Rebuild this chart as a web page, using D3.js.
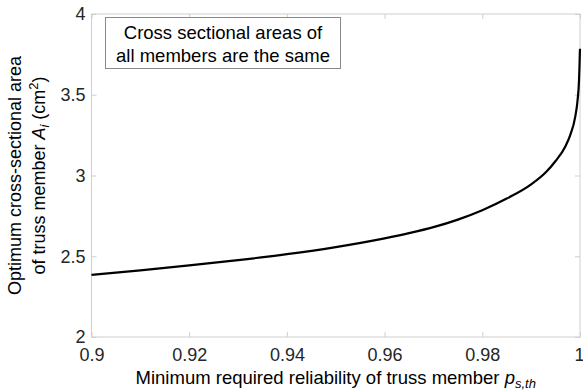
<!DOCTYPE html>
<html><head><meta charset="utf-8">
<script src="https://cdn.jsdelivr.net/npm/d3@7"></script>
<style>body{margin:0;background:#fff}svg{display:block}text{font-family:"Liberation Sans",Arial,sans-serif}</style>
</head><body>
<script>
const reliability = [0.90,0.91,0.92,0.93,0.94,0.95,0.96,0.965,0.97,0.975,0.98,0.985,0.99,0.993,0.995,0.997,0.998,0.999,0.9995,0.9998,0.9999,0.99997,1.0];
const area =        [2.385,2.413,2.443,2.476,2.513,2.557,2.611,2.643,2.680,2.727,2.785,2.857,2.945,3.020,3.090,3.180,3.250,3.360,3.465,3.590,3.680,3.760,3.785];
const xTicks = [0.9,0.92,0.94,0.96,0.98,1];
const xTickLabels = ["0.9","0.92","0.94","0.96","0.98","1"];
const yTicks = [2,2.5,3,3.5,4];
const yTickLabels = ["2","2.5","3","3.5","4"];

const W=583,H=391;
const m={l:91.5,r:3,t:14,b:54};
const svg=d3.select("body").append("svg").attr("width",W).attr("height",H);
const x=d3.scaleLinear().domain([0.9,1]).range([m.l,W-m.r]);
const y=d3.scaleLinear().domain([2,4]).range([H-m.b,m.t]);
const axCol="#cfcfcf", txtCol="#262626";

// box
svg.append("rect").attr("x",x(0.9)).attr("y",y(4)).attr("width",x(1)-x(0.9)).attr("height",y(2)-y(4))
  .attr("fill","none").attr("stroke",axCol).attr("stroke-width",1);

function styleAxis(g){g.select(".domain").remove();g.selectAll(".tick line").attr("stroke",axCol);g.selectAll(".tick text").attr("fill",txtCol).style("font-size","18px");}
const xb=svg.append("g").attr("transform",`translate(0,${y(2)})`)
  .call(d3.axisBottom(x).tickValues(xTicks).tickFormat((d,i)=>xTickLabels[i]).tickSizeInner(-5).tickSizeOuter(0).tickPadding(11))
  .call(styleAxis);
xb.selectAll(".tick text").filter(d=>d===1).attr("text-anchor","end").attr("dx",4);
svg.append("g").attr("transform",`translate(0,${y(4)})`)
  .call(d3.axisTop(x).tickValues(xTicks).tickFormat("").tickSizeInner(-5).tickSizeOuter(0)).call(styleAxis);
svg.append("g").attr("transform",`translate(${x(0.9)},0)`)
  .call(d3.axisLeft(y).tickValues(yTicks).tickFormat((d,i)=>yTickLabels[i]).tickSizeInner(-5).tickSizeOuter(0).tickPadding(6))
  .call(styleAxis);
svg.append("g").attr("transform",`translate(${x(1)},0)`)
  .call(d3.axisRight(y).tickValues(yTicks).tickFormat("").tickSizeInner(-5).tickSizeOuter(0)).call(styleAxis);

// curve
const pts=reliability.map((p,i)=>[p,area[i]]);
svg.append("path").datum(pts).attr("fill","none").attr("stroke","#000").attr("stroke-width",2.2)
  .attr("d",d3.line().x(d=>x(d[0])).y(d=>y(d[1])).curve(d3.curveMonotoneX));

// annotation box
svg.append("rect").attr("x",105.5).attr("y",17.5).attr("width",235).attr("height",51).attr("fill","#fff").attr("stroke","#8a8a8a");
const ann=svg.append("text").attr("text-anchor","middle").attr("fill","#000").style("font-size","18.5px");
ann.append("tspan").attr("x",223).attr("y",38.5).text("Cross sectional areas of");
ann.append("tspan").attr("x",223).attr("y",62).text("all members are the same");

// x label
const xl=svg.append("text").attr("x",(x(0.9)+x(1))/2).attr("y",384).attr("text-anchor","middle").attr("fill","#000").style("font-size","18.5px");
xl.append("tspan").text("Minimum required reliability of truss member ");
xl.append("tspan").style("font-style","italic").text("p");
xl.append("tspan").style("font-style","italic").style("font-size","13px").attr("dy",4).text("s,th");

// y label
const cy=(y(2)+y(4))/2;
const yl=svg.append("text").attr("transform",`translate(21,${cy}) rotate(-90)`).attr("text-anchor","middle").attr("fill","#000").style("font-size","18px");
yl.append("tspan").attr("x",0).attr("y",0).text("Optimum cross-sectional area");
const yl2=svg.append("text").attr("transform",`translate(45,${cy}) rotate(-90)`).attr("text-anchor","middle").attr("fill","#000").style("font-size","18px");
yl2.append("tspan").text("of truss member ");
yl2.append("tspan").style("font-style","italic").text("A");
yl2.append("tspan").style("font-style","italic").style("font-size","13px").attr("dy",4).text("i");
yl2.append("tspan").attr("dy",-4).text(" (cm");
yl2.append("tspan").style("font-size","13px").attr("dy",-7).text("2");
yl2.append("tspan").attr("dy",7).text(")");
</script>
</body></html>
